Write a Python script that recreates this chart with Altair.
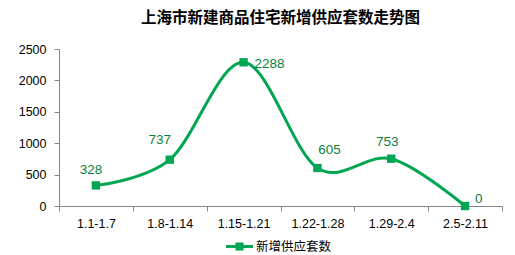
import altair as alt
import pandas as pd

periods = ["1.1-1.7", "1.8-1.14", "1.15-1.21", "1.22-1.28", "1.29-2.4", "2.5-2.11"]
supply = [328, 737, 2288, 605, 753, 0]
series_name = "新增供应套数"
title_text = "上海市新建商品住宅新增供应套数走势图"

df = pd.DataFrame({"period": periods, "value": supply, "series": series_name})

LINE = "#00A651"
LABEL = "#0B7F3E"
FONT = "Liberation Sans"

x = alt.X("period:N", sort=periods, title=None,
          scale=alt.Scale(paddingInner=0, paddingOuter=0),
          axis=alt.Axis(labelAngle=0, labelFont=FONT, labelFontSize=12.5, labelColor="#000000",
                        domainColor="#868686", tickColor="#868686", tickSize=5,
                        tickBand="extent", labelPadding=6))
y = alt.Y("value:Q", title=None,
          scale=alt.Scale(domain=[0, 2500], nice=False),
          axis=alt.Axis(values=[0, 500, 1000, 1500, 2000, 2500], grid=False, format="d",
                        labelFont=FONT, labelFontSize=12.5, labelColor="#000000",
                        domainColor="#868686", tickColor="#868686", tickSize=5,
                        labelPadding=8))

base = alt.Chart(df).encode(x=x, y=y)

line = base.mark_line(interpolate="cardinal", color=LINE, strokeWidth=3)

pts = base.mark_point(shape="square", filled=True, size=70, opacity=1).encode(
    color=alt.Color("series:N", scale=alt.Scale(range=[LINE]),
                    legend=alt.Legend(title=None, orient="none", legendX=167, legendY=184,
                                      direction="horizontal",
                                      symbolType="M -1 -0.11 L -0.3 -0.11 L -0.3 -0.3 L 0.3 -0.3 L 0.3 -0.11 L 1 -0.11 L 1 0.11 L 0.3 0.11 L 0.3 0.3 L -0.3 0.3 L -0.3 0.11 L -1 0.11 Z",
                                      symbolSize=729, symbolStrokeWidth=0, symbolFillColor=LINE,
                                      labelFont="Noto Sans CJK SC", labelFontSize=12.5,
                                      labelColor="#000000", symbolOffset=0, labelOffset=3))
)

def lbl(cats, **kw):
    return base.transform_filter(
        alt.FieldOneOfPredicate(field="period", oneOf=cats)
    ).mark_text(font=FONT, fontSize=13.5, color=LABEL, **kw).encode(text="value:Q")

labels = [
    lbl(["1.1-1.7"], dx=-5, dy=-15),
    lbl(["1.8-1.14"], dx=-10, dy=-20),
    lbl(["2.5-2.11"], align="left", dx=10, dy=-7),
    lbl(["1.15-1.21"], align="left", dx=11, dy=2),
    lbl(["1.22-1.28"], dx=12, dy=-18),
    lbl(["1.29-2.4"], dx=-4, dy=-17),
]

chart = alt.layer(line, pts, *labels).properties(
    width=443, height=157,
    autosize=alt.AutoSizeParams(type="none"),
    padding={"left": 59, "top": 49, "right": 13, "bottom": 49},
    title=alt.Title(title_text, font="Noto Sans CJK SC", fontSize=15.5, fontWeight="bold",
                    color="#000000", anchor="middle", offset=17),
).configure_view(stroke=None)

chart.save("out.html", embed_options={"renderer": "svg", "actions": False})
